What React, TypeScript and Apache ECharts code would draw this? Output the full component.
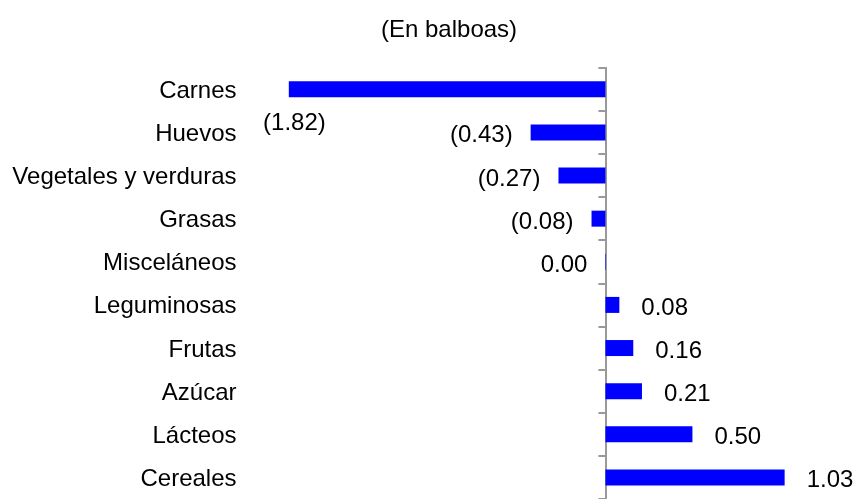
import React, { useEffect, useRef } from "react";
import * as echarts from "echarts";

const categories = [
  "Carnes",
  "Huevos",
  "Vegetales y verduras",
  "Grasas",
  "Misceláneos",
  "Leguminosas",
  "Frutas",
  "Azúcar",
  "Lácteos",
  "Cereales",
];
const values = [-1.82, -0.43, -0.27, -0.08, 0.003, 0.08, 0.16, 0.21, 0.5, 1.03];
const titleText = "(En balboas)";

function fmt(v: number): string {
  const r = Math.round(Math.abs(v) * 100) / 100;
  const s = r.toFixed(2);
  return v < 0 && r > 0 ? `(${s})` : s;
}

export default function App() {
  const ref = useRef<HTMLDivElement>(null);
  useEffect(() => {
    const chart = echarts.init(ref.current!, null, { renderer: "svg" });
    const font = "'Liberation Sans', Arial, sans-serif";
    const fs = 24;
    const data = values.map((v, i) => {
      const onLeft = v < 0.005;
      const label: any = {
        position: onLeft ? "left" : "right",
        distance: onLeft ? 18 : 22,
        offset: [0, 1.5],
      };
      if (i === 0) label.offset = [55, 32];
      return { value: v, label };
    });
    chart.setOption({
      animation: false,
      title: {
        text: titleText,
        left: 381,
        top: 16,
        padding: 0,
        textStyle: { fontFamily: font, fontSize: fs, fontWeight: "normal", color: "#000" },
      },
      grid: { left: 257.5, right: 7, top: 67.7, bottom: -5.3 },
      xAxis: { type: "value", min: -2, max: 1.4, show: false },
      yAxis: [
        {
          type: "category",
          data: categories,
          inverse: true,
          position: "left",
          axisLine: { show: true, onZero: true, lineStyle: { color: "#999", width: 2 } },
          axisTick: { show: true, length: 7, lineStyle: { color: "#999", width: 2 } },
          axisLabel: { show: false },
          splitLine: { show: false },
        },
        {
          type: "category",
          data: categories,
          inverse: true,
          position: "left",
          axisLine: { show: false, onZero: false },
          axisTick: { show: false },
          splitLine: { show: false },
          axisLabel: { margin: 21, fontSize: fs, fontFamily: font, color: "#000" },
        },
      ],
      series: [
        {
          type: "bar",
          yAxisIndex: 0,
          data,
          barWidth: 16,
          itemStyle: { color: "#0000ff" },
          label: {
            show: true,
            formatter: (p: any) => fmt(p.value),
            fontSize: fs,
            fontFamily: font,
            color: "#000",
          },
        },
      ],
    });
    return () => chart.dispose();
  }, []);
  return (
    <div
      ref={ref}
      style={{ position: "fixed", left: 0, top: 0, width: 856, height: 499 }}
    />
  );
}
